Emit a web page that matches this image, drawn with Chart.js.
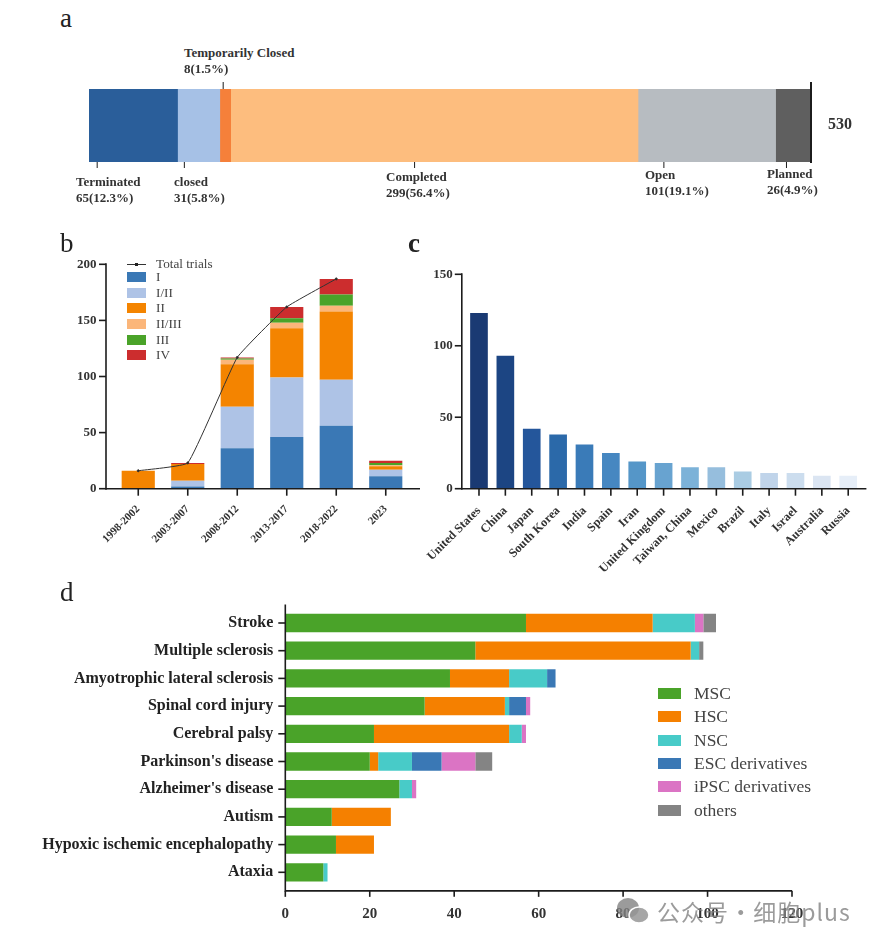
<!DOCTYPE html>
<html>
<head>
<meta charset="utf-8">
<title>Clinical trials overview</title>
<script src="https://cdn.jsdelivr.net/npm/chart.js@4/dist/chart.umd.min.js"></script>
<style>
    html, body { margin: 0; padding: 0; background: #fff; }
    #page { position: relative; width: 883px; height: 945px; overflow: hidden; font-family: "Liberation Serif", serif; color: #222; }
    canvas { position: absolute; }
    .txt { position: absolute; white-space: nowrap; }
    .panel { font-size: 27px; line-height: 30px; color: #222; }
    .note { font-size: 13px; font-weight: bold; line-height: 16px; color: #333; }
    .swatch { position: absolute; }
    #mark { position: absolute; left: 657px; top: 893px; font-family: "Noto Sans CJK SC", sans-serif; font-size: 23px; line-height: 36px; letter-spacing: 1px; word-spacing: -6px; color: rgba(130, 130, 130, 0.8); white-space: nowrap; }
</style>
</head>
<body>
<div id="page">
    <canvas id="statusChart" width="883" height="110" style="left:0;top:70px"></canvas>
    <canvas id="phaseChart" width="380" height="300" style="left:50px;top:255px"></canvas>
    <canvas id="countryChart" width="468" height="335" style="left:415px;top:265px"></canvas>
    <canvas id="diseaseChart" width="883" height="330" style="left:0;top:595px"></canvas>
    <svg style="position:absolute;left:616px;top:897px" width="36" height="28">
        <ellipse cx="12" cy="11" rx="11" ry="10" fill="rgba(130,130,130,0.8)"/>
        <ellipse cx="23" cy="18" rx="10" ry="8" fill="rgba(150,150,150,0.85)" stroke="#fff" stroke-width="1.5"/>
    </svg>
    <div id="mark">公众号 · 细胞plus</div>
</div>

<script>
// a - trial status
const statusNames = ['Terminated', 'closed', 'Temporarily Closed', 'Completed', 'Open', 'Planned'];
const statusValues = [65, 31, 8, 299, 101, 26];
const statusShares = ['12.3%', '5.8%', '1.5%', '56.4%', '19.1%', '4.9%'];
const statusTotal = 530;

// b - trials per period and phase
const periods = ['1998-2002', '2003-2007', '2008-2012', '2013-2017', '2018-2022', '2023'];
const phaseNames = ['I', 'I/II', 'II', 'II/III', 'III', 'IV'];
const phaseI = [0, 2, 36, 46, 56, 11];
const phaseI_II = [0, 5, 37, 53, 41, 6];
const phaseII = [16, 15, 38, 44, 61, 3];
const phaseII_III = [0, 0, 4, 5, 5, 1];
const phaseIII = [0, 0, 1, 4, 10, 2];
const phaseIV = [0, 1, 1, 10, 14, 2];
const totalTrials = [16, 23, 117, 162, 187, null];
const phaseTicks = [0, 50, 100, 150, 200];

// c - trials per country
const countries = ['United States', 'China', 'Japan', 'South Korea', 'India', 'Spain', 'Iran', 'United Kingdom',
    'Taiwan, China', 'Mexico', 'Brazil', 'Italy', 'Israel', 'Australia', 'Russia'];
const countryValues = [123, 93, 42, 38, 31, 25, 19, 18, 15, 15, 12, 11, 11, 9, 9];
const countryTicks = [0, 50, 100, 150];

// d - trials per disease and cell type
const diseases = ['Stroke', 'Multiple sclerosis', 'Amyotrophic lateral sclerosis', 'Spinal cord injury', 'Cerebral palsy',
    "Parkinson's disease", "Alzheimer's disease", 'Autism', 'Hypoxic ischemic encephalopathy', 'Ataxia'];
const cellNames = ['MSC', 'HSC', 'NSC', 'ESC derivatives', 'iPSC derivatives', 'others'];
const msc = [57, 45, 39, 33, 21, 20, 27, 11, 12, 9];
const hsc = [30, 51, 14, 19, 32, 2, 0, 14, 9, 0];
const nsc = [10, 2, 9, 1, 3, 8, 3, 0, 0, 1];
const esc = [0, 0, 2, 4, 0, 7, 0, 0, 0, 0];
const ipsc = [2, 0, 0, 1, 1, 8, 1, 0, 0, 0];
const others = [3, 1, 0, 0, 0, 4, 0, 0, 0, 0];
const diseaseTicks = [0, 20, 40, 60, 80, 100, 120];

// colours
const statusColors = ['#2a5e9a', '#a6c1e6', '#f5803a', '#fdbd7e', '#b7bcc1', '#5f5f5f'];
const phaseColors = ['#3a78b5', '#aec3e6', '#f48400', '#fbb67a', '#4aa329', '#cc2d2e'];
const countryColors = ['#1a3a73', '#1c4583', '#24569b', '#2b69a9', '#3a7bb8', '#4687c1', '#5596c8', '#68a3d0',
    '#7cb2d8', '#96bedd', '#aaccE3', '#c0d4ea', '#ccddee', '#dbe5f2', '#e6eef8'];
const cellColors = ['#4aa329', '#f58000', '#48cbc8', '#3a78b5', '#db74c4', '#848484'];

const AXIS = '#1c1c1c';
const fontFamily = '"Liberation Serif", serif';
const valueFont = { family: fontFamily, size: 13, weight: 'bold' };

Chart.defaults.animation = false;
Chart.defaults.responsive = false;
Chart.defaults.plugins.legend.display = false;
Chart.defaults.plugins.tooltip.enabled = false;

const page = document.getElementById('page');

function addText(text, left, top, className, style) {
    const el = document.createElement('div');
    el.className = 'txt ' + className;
    el.textContent = text;
    el.style.left = left + 'px';
    el.style.top = top + 'px';
    if (style) Object.assign(el.style, style);
    page.appendChild(el);
    return el;
}

function addSwatch(color, left, top, width, height) {
    const el = document.createElement('div');
    el.className = 'swatch';
    el.style.cssText = `left:${left}px;top:${top}px;width:${width}px;height:${height}px;background:${color}`;
    page.appendChild(el);
}

function line(ctx, x1, y1, x2, y2, width) {
    ctx.beginPath();
    ctx.lineWidth = width;
    ctx.strokeStyle = AXIS;
    ctx.moveTo(x1, y1);
    ctx.lineTo(x2, y2);
    ctx.stroke();
}

// Prism style axes: the lines sit a little away from the plot area
const columnAxes = {
    id: 'columnAxes',
    afterDraw(chart, args, opts) {
        const { ctx, chartArea, scales } = chart;
        const base = scales.y.getPixelForValue(0);
        const axisX = chartArea.left - opts.gap;
        line(ctx, axisX, scales.y.getPixelForValue(scales.y.max) - 1, axisX, base + 1, 1.6);
        line(ctx, axisX, base, chartArea.right + opts.extend, base, 1.6);
        scales.y.ticks.forEach(t => {
            const y = scales.y.getPixelForValue(t.value);
            line(ctx, axisX - 7, y, axisX, y, 1.6);
        });
        scales.x.ticks.forEach((t, i) => {
            const x = scales.x.getPixelForTick(i);
            line(ctx, x, base, x, base + 7, 1.6);
        });
    }
};

const rowAxes = {
    id: 'rowAxes',
    afterDraw(chart, args, opts) {
        const { ctx, chartArea, scales } = chart;
        const axisY = chartArea.bottom + opts.gap;
        const left = scales.x.getPixelForValue(0);
        line(ctx, left, chartArea.top - opts.gap, left, axisY + 1, 1.6);
        line(ctx, left, axisY, scales.x.getPixelForValue(scales.x.max), axisY, 1.6);
        scales.x.ticks.forEach(t => {
            const x = scales.x.getPixelForValue(t.value);
            line(ctx, x, axisY, x, axisY + 6, 1.6);
        });
        scales.y.ticks.forEach((t, i) => {
            const y = scales.y.getPixelForTick(i);
            line(ctx, left - 7, y, left, y, 1.6);
        });
    }
};

// leader ticks of panel a, in trial counts along the bar
const leaderBelow = [6, 70, 239, 422, 512];
const leaderAbove = [98.5];

const statusLeaders = {
    id: 'statusLeaders',
    afterDraw(chart) {
        const { ctx, chartArea, scales } = chart;
        leaderBelow.forEach(v => {
            const x = scales.x.getPixelForValue(v);
            line(ctx, x, chartArea.bottom, x, chartArea.bottom + 6, 1);
        });
        leaderAbove.forEach(v => {
            const x = scales.x.getPixelForValue(v);
            line(ctx, x, chartArea.top - 7, x, chartArea.top, 1);
        });
        const end = scales.x.getPixelForValue(statusTotal);
        line(ctx, end, chartArea.top - 7, end, chartArea.bottom + 1, 2);
    }
};

function fixScale(prop, size) {
    return function (scale) {
        scale[prop] = size;
        scale.paddingLeft = scale.paddingRight = scale.paddingTop = scale.paddingBottom = 0;
    };
}

// Panel a
new Chart(document.getElementById('statusChart'), {
    type: 'bar',
    data: {
        labels: ['status'],
        datasets: statusNames.map((name, i) => ({
            label: name,
            data: [statusValues[i]],
            backgroundColor: statusColors[i],
            barPercentage: 1,
            categoryPercentage: 1
        }))
    },
    options: {
        indexAxis: 'y',
        layout: { autoPadding: false, padding: { left: 89, right: 72, top: 19, bottom: 18 } },
        scales: {
            x: { display: false, stacked: true, min: 0, max: statusTotal },
            y: { display: false, stacked: true }
        }
    },
    plugins: [statusLeaders]
});

// Panel b
const phaseSeries = [phaseI, phaseI_II, phaseII, phaseII_III, phaseIII, phaseIV];
new Chart(document.getElementById('phaseChart'), {
    data: {
        labels: periods,
        datasets: [
            {
                type: 'line',
                label: 'Total trials',
                data: totalTrials,
                borderColor: '#333',
                borderWidth: 1,
                pointRadius: 1,
                pointBackgroundColor: '#222',
                tension: 0.1,
                stack: 'total',
                order: 0
            }
        ].concat(phaseSeries.map((values, i) => ({
            type: 'bar',
            label: phaseNames[i],
            data: values,
            backgroundColor: phaseColors[i],
            barPercentage: 0.67,
            categoryPercentage: 1,
            stack: 'phase',
            order: 1
        })))
    },
    options: {
        layout: { autoPadding: false, padding: { top: 9.3, right: 19.5 } },
        scales: {
            x: {
                stacked: true,
                afterFit: fixScale('height', 66.3),
                grid: { display: false },
                border: { display: false },
                ticks: { font: { family: fontFamily, size: 11, weight: 'bold' }, color: '#333', minRotation: 45, maxRotation: 45, autoSkip: false, padding: 6 }
            },
            y: {
                stacked: true,
                min: 0,
                max: 200,
                afterFit: fixScale('width', 63.5),
                afterBuildTicks(scale) { scale.ticks = phaseTicks.map(v => ({ value: v })); },
                grid: { display: false },
                border: { display: false },
                ticks: { font: valueFont, color: '#333', padding: 9 }
            }
        },
        plugins: { columnAxes: { gap: 7.5, extend: 9.5 } }
    },
    plugins: [columnAxes]
});

// Panel c
new Chart(document.getElementById('countryChart'), {
    type: 'bar',
    data: {
        labels: countries,
        datasets: [{
            label: 'Trials',
            data: countryValues,
            backgroundColor: countryColors,
            barPercentage: 0.67,
            categoryPercentage: 1
        }]
    },
    options: {
        layout: { autoPadding: false, padding: { top: 9.3, right: 21.6 } },
        scales: {
            x: {
                afterFit: fixScale('height', 111.3),
                grid: { display: false },
                border: { display: false },
                ticks: { font: { family: fontFamily, size: 12.3, weight: 'bold' }, color: '#333', minRotation: 45, maxRotation: 45, autoSkip: false, padding: 7 }
            },
            y: {
                min: 0,
                max: 150,
                afterFit: fixScale('width', 50.8),
                afterBuildTicks(scale) { scale.ticks = countryTicks.map(v => ({ value: v })); },
                grid: { display: false },
                border: { display: false },
                ticks: { font: valueFont, color: '#333', padding: 5 }
            }
        },
        plugins: { columnAxes: { gap: 4, extend: 5 } }
    },
    plugins: [columnAxes]
});

// Panel d
const cellSeries = [msc, hsc, nsc, esc, ipsc, others];
new Chart(document.getElementById('diseaseChart'), {
    type: 'bar',
    data: {
        labels: diseases,
        datasets: cellSeries.map((values, i) => ({
            label: cellNames[i],
            data: values,
            backgroundColor: cellColors[i],
            barPercentage: 0.66,
            categoryPercentage: 1
        }))
    },
    options: {
        indexAxis: 'y',
        layout: { autoPadding: false, padding: { top: 14.15, right: 91 } },
        scales: {
            x: {
                stacked: true,
                min: 0,
                max: 120,
                afterFit: fixScale('height', 38.85),
                afterBuildTicks(scale) { scale.ticks = diseaseTicks.map(v => ({ value: v })); },
                grid: { display: false },
                border: { display: false },
                ticks: { font: { family: fontFamily, size: 15, weight: 'bold' }, color: '#333', padding: 11, maxRotation: 0 }
            },
            y: {
                stacked: true,
                afterFit: fixScale('width', 285.3),
                grid: { display: false },
                border: { display: false },
                ticks: { font: { family: fontFamily, size: 16, weight: 'bold' }, color: '#222', padding: 4, autoSkip: false }
            }
        },
        plugins: { rowAxes: { gap: 4.7 } }
    },
    plugins: [rowAxes]
});

// Panel letters
addText('a', 60, 3, 'panel');
addText('b', 60, 228, 'panel');
addText('c', 408, 228, 'panel', { fontWeight: 'bold' });
addText('d', 60, 577, 'panel');

// Panel a annotations
const statusNotes = [
    [76, 174], [174, 174], [184, 45], [386, 169], [645, 167], [767, 166]
];
statusNames.forEach((name, i) => {
    addText(name, statusNotes[i][0], statusNotes[i][1], 'note');
    addText(statusValues[i] + '(' + statusShares[i] + ')', statusNotes[i][0], statusNotes[i][1] + 16, 'note');
});
addText(String(statusTotal), 828, 116, 'note', { fontSize: '16px' });

// Panel b legend
const legendB = { fontSize: '13.2px', lineHeight: '14px', color: '#444' };
addText('Total trials', 156, 257, '', legendB);
addSwatch('#333', 127, 264, 19, 1);
addSwatch('#222', 135, 263, 3, 3);
const phaseLegendY = [272, 288, 303, 319, 335, 350];
phaseNames.forEach((name, i) => {
    addSwatch(phaseColors[i], 127, phaseLegendY[i], 19, 10);
    addText(name, 156, phaseLegendY[i] - 2, '', legendB);
});

// Panel d legend
const cellLegendY = [688, 711, 735, 758, 781, 805];
cellNames.forEach((name, i) => {
    addSwatch(cellColors[i], 658, cellLegendY[i], 23, 11);
    addText(name, 694, cellLegendY[i] - 4, '', { fontSize: '17.5px', lineHeight: '19px', color: '#444' });
});
</script>
</body>
</html>
